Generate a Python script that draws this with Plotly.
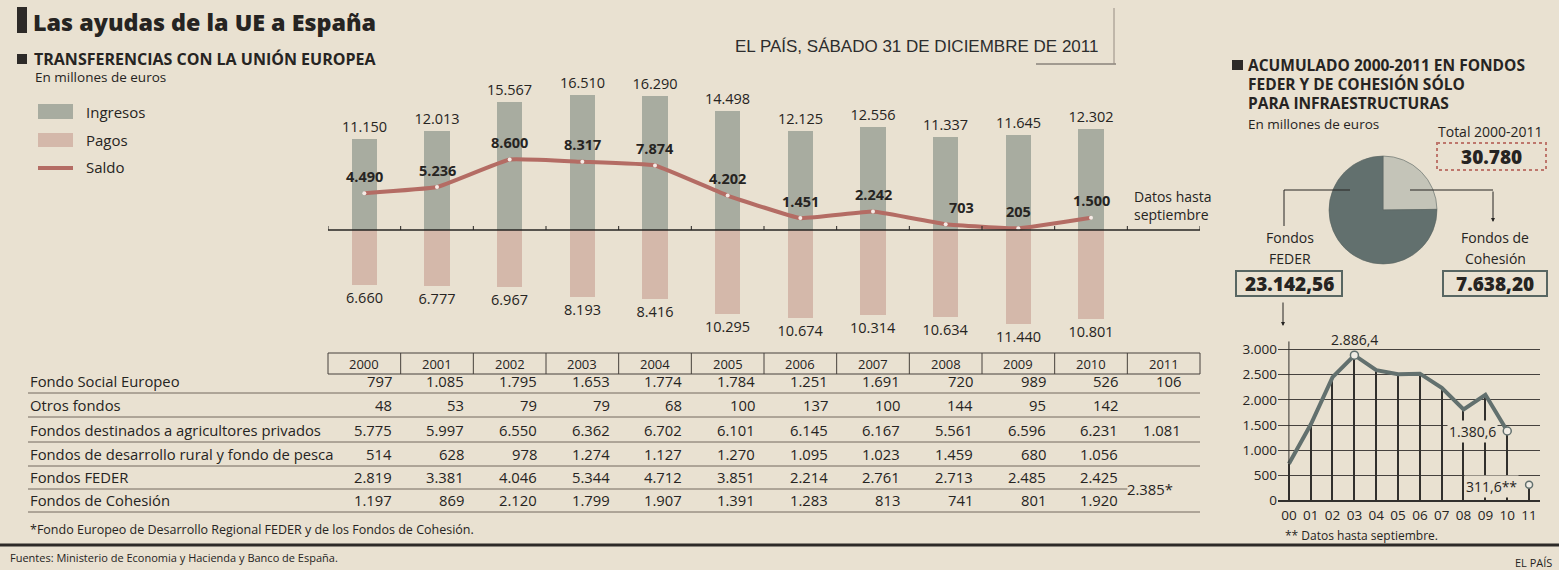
import plotly.graph_objects as go

# ---------------- DATA ----------------
YEARS = [2000, 2001, 2002, 2003, 2004, 2005, 2006, 2007, 2008, 2009, 2010]
INGRESOS = [11150, 12013, 15567, 16510, 16290, 14498, 12125, 12556, 11337, 11645, 12302]
PAGOS = [6660, 6777, 6967, 8193, 8416, 10295, 10674, 10314, 10634, 11440, 10801]
SALDO = [4490, 5236, 8600, 8317, 7874, 4202, 1451, 2242, 703, 205, 1500]

TABLE_YEARS = [2000, 2001, 2002, 2003, 2004, 2005, 2006, 2007, 2008, 2009, 2010, 2011]
ROW_LABELS = ["Fondo Social Europeo", "Otros fondos", "Fondos destinados a agricultores privados",
              "Fondos de desarrollo rural y fondo de pesca", "Fondos FEDER", "Fondos de Cohesión"]
FSE = [797, 1085, 1795, 1653, 1774, 1784, 1251, 1691, 720, 989, 526, 106]
OTROS = [48, 53, 79, 79, 68, 100, 137, 100, 144, 95, 142, None]
AGRIC = [5775, 5997, 6550, 6362, 6702, 6101, 6145, 6167, 5561, 6596, 6231, 1081]
RURAL = [514, 628, 978, 1274, 1127, 1270, 1095, 1023, 1459, 680, 1056, None]
FEDER_T = [2819, 3381, 4046, 5344, 4712, 3851, 2214, 2761, 2713, 2485, 2425, None]
COHES_T = [1197, 869, 2120, 1799, 1907, 1391, 1283, 813, 741, 801, 1920, None]
FEDER_COHES_2011 = 2385

PIE_LABELS = ["Fondos de Cohesión", "Fondos FEDER"]
FEDER_TOTAL = 23142.56
COHESION_TOTAL = 7638.20
TOTAL_2000_2011 = 30780

FEDER_YEARS = ["00", "01", "02", "03", "04", "05", "06", "07", "08", "09", "10", "11"]
FEDER_ANUAL = [730, 1510, 2450, 2886.4, 2590, 2510, 2520, 2240, 1810, 2100, 1380.6, 311.6]
LINE_TICKS = [0, 500, 1000, 1500, 2000, 2500, 3000]

# ---------------- STYLE ----------------
W, H = 1559, 570
BG = "rgb(233,225,209)"
INK = "rgb(38,36,34)"
FONT = "Open Sans"
ING_C = "rgb(168,172,160)"
PAG_C = "rgb(212,184,170)"
SALDO_C = "rgb(180,108,100)"
TEAL = "rgb(98,112,110)"
TEAL_L = "rgb(196,196,184)"
RULE = "rgb(115,105,95)"


def px(x):
    return x / W


def py(y):
    return 1 - y / H


def fmt(v, d=0):
    s = f"{v:,.{d}f}"
    return s.replace(",", "X").replace(".", ",").replace("X", ".")


fig = go.Figure()
ann = []
shapes = []


def text(x, y, s, size=14, weight="normal", xanchor="left", yanchor="middle", color=INK, align="left",
         family=FONT, **kw):
    ann.append(dict(x=px(x), y=py(y), xref="paper", yref="paper", text=s, showarrow=False,
                    xanchor=xanchor, yanchor=yanchor, align=align,
                    font=dict(family=family, size=size, color=color, weight=weight), **kw))


def line(x0, y0, x1, y1, color=INK, width=1, dash="solid"):
    shapes.append(dict(type="line", xref="paper", yref="paper", x0=px(x0), y0=py(y0), x1=px(x1), y1=py(y1),
                       line=dict(color=color, width=width, dash=dash)))


def rect(x0, y0, x1, y1, fill=None, color=None, width=0, dash="solid"):
    shapes.append(dict(type="rect", xref="paper", yref="paper", x0=px(x0), y0=py(y0), x1=px(x1), y1=py(y1),
                       fillcolor=fill if fill else "rgba(0,0,0,0)",
                       line=dict(color=color if color else "rgba(0,0,0,0)", width=width, dash=dash)))


# ---------------- BAR CHART ----------------
BX0, BX1 = 328, 1200
BY_TOP, BY_BOT = 70, 345
BASE = 230
SCALE = 0.0082
y_max = (BASE - BY_TOP) / SCALE
y_min = -(BY_BOT - BASE) / SCALE

fig.add_trace(go.Bar(x=YEARS, y=INGRESOS, width=0.35, marker=dict(color=ING_C, line=dict(width=0)),
                     text=[fmt(v) for v in INGRESOS], textposition="outside", textangle=0,
                     constraintext="none",
                     textfont=dict(family=FONT, size=14.5, color=INK), cliponaxis=False,
                     xaxis="x", yaxis="y", hoverinfo="skip"))
fig.add_trace(go.Bar(x=YEARS, y=[-v for v in PAGOS], width=0.35, marker=dict(color=PAG_C, line=dict(width=0)),
                     text=[fmt(v) for v in PAGOS], textposition="outside", textangle=0,
                     constraintext="none",
                     textfont=dict(family=FONT, size=14.5, color=INK), cliponaxis=False,
                     xaxis="x", yaxis="y", hoverinfo="skip"))
fig.add_trace(go.Scatter(x=YEARS, y=SALDO, mode="lines+markers",
                         line=dict(color=SALDO_C, width=4, shape="spline", smoothing=0.3),
                         marker=dict(size=4, color="rgb(245,235,230)"),
                         xaxis="x", yaxis="y", cliponaxis=False, hoverinfo="skip"))
for yr, v in zip(YEARS, SALDO):
    xs = 16 if v == 703 else 0
    ann.append(dict(x=yr, y=v, xref="x", yref="y", text=fmt(v), showarrow=False, yshift=17, xshift=xs,
                    font=dict(family=FONT, size=14.5, color=INK, weight="bold")))

# baseline + ticks
shapes.append(dict(type="line", xref="x", yref="y", x0=TABLE_YEARS[0] - 0.5, x1=TABLE_YEARS[-1] + 0.5,
                   y0=0, y1=0, line=dict(color=INK, width=1.5)))
for i in range(len(TABLE_YEARS) + 1):
    xb = TABLE_YEARS[0] - 0.5 + i
    shapes.append(dict(type="line", xref="x", yref="y", x0=xb, x1=xb, y0=0, y1=4 / SCALE,
                       line=dict(color=INK, width=1)))

text(1132, 205, "Datos hasta<br>septiembre", size=14)

# ---------------- HEADER / LEGEND ----------------
rect(17, 7, 27, 33, fill="rgb(45,42,40)")
text(31, 22, "Las ayudas de la UE a España", size=23.3, weight=800)
rect(17, 54, 27, 64, fill="rgb(45,42,40)")
text(32, 59, "TRANSFERENCIAS CON LA UNIÓN EUROPEA", size=16, weight="bold")
text(33, 77, "En millones de euros", size=13.5)
text(733, 46, "EL PAÍS, SÁBADO 31 DE DICIEMBRE DE 2011", size=17, color="rgb(45,45,45)",
     family="Liberation Sans")
line(1036, 64, 1116, 64, color="rgb(90,85,80)", width=1)
line(1114, 8, 1114, 64, color="rgb(150,140,130)", width=1)

rect(38, 104, 73, 119, fill=ING_C)
rect(38, 133, 73, 147, fill=PAG_C)
line(38, 168, 73, 168, color=SALDO_C, width=4)
text(84, 112, "Ingresos", size=15)
text(84, 140, "Pagos", size=15)
text(84, 167, "Saldo", size=15)

# ---------------- TABLE ----------------
COLW = (BX1 - BX0) / len(TABLE_YEARS)
HT, HB = 353, 374
rect(BX0, HT, BX1, HB, color="rgb(70,65,60)", width=1)
for i, yr in enumerate(TABLE_YEARS):
    if i > 0:
        line(BX0 + i * COLW, HT, BX0 + i * COLW, HB, color="rgb(70,65,60)", width=1)
    text(BX0 + (i + 0.5) * COLW, 364, str(yr), size=13, xanchor="center")

ROWS = [FSE, OTROS, AGRIC, RURAL, FEDER_T, COHES_T]
ROW_Y = [381, 405, 430, 454, 477, 500]
SEP_Y = [393, 417, 442, 466, 489, 512]
for r, (lab, vals) in enumerate(zip(ROW_LABELS, ROWS)):
    text(28, ROW_Y[r], lab, size=14.8)
    for i, v in enumerate(vals):
        if v is not None:
            text(BX0 + (i + 1) * COLW - 7 - (10 if i == len(vals) - 1 else 0), ROW_Y[r], fmt(v),
                 size=14.8, xanchor="right")
    x_end = BX1 - COLW if r == 4 else BX1
    line(28, SEP_Y[r], x_end, SEP_Y[r], color=RULE, width=1)
text(BX1 - COLW / 2 - 14, 489, fmt(FEDER_COHES_2011) + "*", size=14.8, xanchor="center")

text(28, 529, "*Fondo Europeo de Desarrollo Regional FEDER y de los Fondos de Cohesión.", size=12.5)
line(0, 545, W, 545, color="rgb(45,42,40)", width=3)
text(8, 557, "Fuentes: Ministerio de Economia y Hacienda y Banco de España.", size=11)
text(1554, 562, "EL PAÍS", size=11, xanchor="right")

# ---------------- RIGHT PANEL: PIE ----------------
rect(1232, 60, 1243, 70, fill="rgb(45,42,40)")
text(1246, 65, "ACUMULADO 2000-2011 EN FONDOS", size=15.5, weight="bold")
text(1246, 84, "FEDER Y DE COHESIÓN SÓLO", size=15.5, weight="bold")
text(1246, 103, "PARA INFRAESTRUCTURAS", size=15.5, weight="bold")
text(1246, 124, "En millones de euros", size=13.5)
text(1490, 131, "Total 2000-2011", size=14, xanchor="center")
rect(1437, 143, 1546, 170, color="rgb(190,118,108)", width=2, dash="dot")
text(1491, 157, fmt(TOTAL_2000_2011), size=19, weight=800, xanchor="center")

CX, CY, R = 1383, 210, 54
fig.add_trace(go.Pie(values=[COHESION_TOTAL, FEDER_TOTAL], labels=PIE_LABELS, sort=False,
                     direction="clockwise", rotation=0, textinfo="none", hoverinfo="skip",
                     marker=dict(colors=[TEAL_L, TEAL], line=dict(color="rgb(90,100,98)", width=0.6)),
                     domain=dict(x=[px(CX - R), px(CX + R)], y=[py(CY + R), py(CY - R)]),
                     showlegend=False))

# leaders
line(1350, 190, 1284, 190, color=INK, width=1)
line(1284, 190, 1284, 226, color=INK, width=1)
line(1410, 190, 1493, 190, color=INK, width=1)
ann.append(dict(x=px(1493), y=py(222), xref="paper", yref="paper", ax=0, ay=-32, text="", showarrow=True,
                arrowhead=2, arrowsize=0.8, arrowwidth=1, arrowcolor=INK))
text(1290, 238, "Fondos", size=14, xanchor="center")
text(1290, 258, "FEDER", size=14, xanchor="center")
text(1495, 238, "Fondos de", size=14, xanchor="center")
text(1495, 258, "Cohesión", size=14, xanchor="center")
rect(1236, 271, 1342, 296, color="rgb(88,102,98)", width=2)
text(1289, 284, fmt(FEDER_TOTAL, 2), size=19, weight=800, xanchor="center")
rect(1443, 271, 1547, 296, color="rgb(88,102,98)", width=2)
text(1495, 284, fmt(COHESION_TOTAL, 2), size=19, weight=800, xanchor="center")
ann.append(dict(x=px(1283), y=py(326), xref="paper", yref="paper", ax=0, ay=-25, text="", showarrow=True,
                arrowhead=2, arrowsize=0.8, arrowwidth=1, arrowcolor=INK))

# ---------------- RIGHT PANEL: LINE ----------------
LX0, LX1 = 1278, 1540
ZERO_Y, TOP_Y = 500.5, 340
LSCALE = (500.5 - 349.5) / 3000

fig.add_trace(go.Bar(x=FEDER_YEARS, y=FEDER_ANUAL, width=0.06, marker=dict(color="rgb(50,48,45)", line=dict(width=0)),
                     xaxis="x2", yaxis="y2", hoverinfo="skip"))
fig.add_trace(go.Scatter(x=FEDER_YEARS[:-1], y=FEDER_ANUAL[:-1], mode="lines",
                         line=dict(color=TEAL, width=4), xaxis="x2", yaxis="y2", hoverinfo="skip"))
mark_idx = [3, 10]
fig.add_trace(go.Scatter(x=[FEDER_YEARS[i] for i in mark_idx], y=[FEDER_ANUAL[i] for i in mark_idx], mode="markers",
                         marker=dict(size=8, color="rgb(240,236,228)", line=dict(color=TEAL, width=1.5)),
                         xaxis="x2", yaxis="y2", hoverinfo="skip", cliponaxis=False))
fig.add_trace(go.Scatter(x=[FEDER_YEARS[-1]], y=[FEDER_ANUAL[-1]], mode="markers",
                         marker=dict(size=7, color="rgb(240,236,228)", line=dict(color=TEAL, width=1.5)),
                         xaxis="x2", yaxis="y2", hoverinfo="skip", cliponaxis=False))
shapes.append(dict(type="line", xref="x2", yref="y2", x0=0, x1=0, y0=0, y1=3160,
                   line=dict(color="rgb(50,48,45)", width=1)))
ann.append(dict(x=FEDER_YEARS[3], y=FEDER_ANUAL[3], xref="x2", yref="y2", text=fmt(FEDER_ANUAL[3], 1),
                showarrow=False, yshift=16, font=dict(family=FONT, size=14, color=INK)))
ann.append(dict(x=FEDER_YEARS[10], y=FEDER_ANUAL[10], xref="x2", yref="y2", text=fmt(FEDER_ANUAL[10], 1),
                showarrow=False, xanchor="right", xshift=-9, bgcolor=BG, borderpad=1,
                font=dict(family=FONT, size=14, color=INK)))
ann.append(dict(x=FEDER_YEARS[11], y=FEDER_ANUAL[11], xref="x2", yref="y2", text=fmt(FEDER_ANUAL[11], 1) + "**",
                showarrow=False, xanchor="right", xshift=-10, yshift=-2, bgcolor=BG, borderpad=1,
                font=dict(family=FONT, size=14, color=INK)))
text(1283, 535, "** Datos hasta septiembre.", size=12)

fig.update_layout(
    width=W, height=H, margin=dict(l=0, r=0, t=0, b=0, pad=0, autoexpand=False),
    paper_bgcolor=BG, plot_bgcolor="rgba(0,0,0,0)",
    barmode="overlay", showlegend=False, bargap=0,
    font=dict(family=FONT, color=INK),
    xaxis=dict(domain=[px(BX0), px(BX1)], range=[TABLE_YEARS[0] - 0.5, TABLE_YEARS[-1] + 0.5],
               visible=False, fixedrange=True, automargin=False),
    yaxis=dict(domain=[py(BY_BOT), py(BY_TOP)], range=[y_min, y_max], visible=False, fixedrange=True,
               automargin=False),
    xaxis2=dict(domain=[px(LX0), px(LX1)], anchor="y2", type="category", range=[-0.5, 11.5],
                showgrid=False, showline=False, zeroline=False, ticks="", automargin=False,
                ticklabelstandoff=5,
                tickfont=dict(family=FONT, size=13.5, color=INK), fixedrange=True),
    yaxis2=dict(domain=[py(ZERO_Y), py(TOP_Y)], anchor="x2", range=[0, (ZERO_Y - TOP_Y) / LSCALE],
                tickvals=LINE_TICKS, ticktext=[fmt(v) for v in LINE_TICKS], automargin=False,
                showgrid=True, gridcolor="rgb(70,66,62)", gridwidth=1,
                zeroline=True, zerolinecolor="rgb(50,48,45)", zerolinewidth=1.5,
                showline=False, ticks="", tickfont=dict(family=FONT, size=13.5, color=INK), fixedrange=True),
    annotations=ann, shapes=shapes,
)

fig.write_html("out.html", config={"displayModeBar": False},
               post_script="document.body.style.margin='0';document.body.style.padding='0';"
                           "document.documentElement.style.overflow='hidden';")
